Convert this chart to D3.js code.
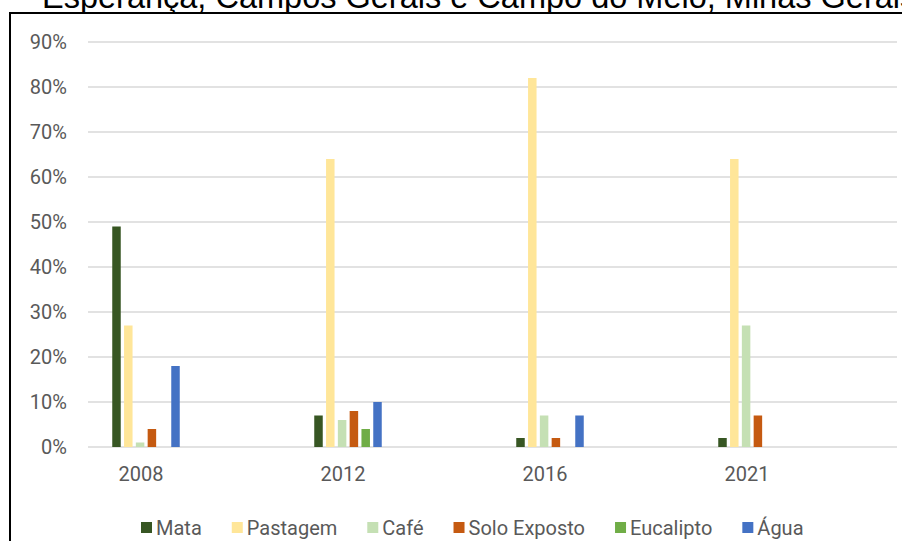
<!DOCTYPE html>
<html>
<head>
<meta charset="utf-8">
<script src="https://cdn.jsdelivr.net/npm/d3@7/dist/d3.min.js"></script>
<style>
  body { margin: 0; background: #fff; }
  svg { display: block; }
  .tick text { font-family: Roboto, "Liberation Sans", sans-serif; fill: #595959; }
</style>
</head>
<body>
<div id="chart"></div>
<script>
// data (percent)
var years = ["2008", "2012", "2016", "2021"];
var classes = ["Mata", "Pastagem", "Café", "Solo Exposto", "Eucalipto", "Água"];
var mata       = [49, 7, 2, 2];
var pastagem   = [27, 64, 82, 64];
var cafe       = [1, 6, 7, 27];
var soloExposto = [4, 8, 2, 7];
var eucalipto  = [0, 4, 0, 0];
var agua       = [18, 10, 7, 0];
var yTicks = [0, 10, 20, 30, 40, 50, 60, 70, 80, 90];
var colors = ["#375623", "#ffe699", "#c5e0b4", "#c55a11", "#70ad47", "#4472c4"];

var series = [mata, pastagem, cafe, soloExposto, eucalipto, agua];

var fullWidth = 902, fullHeight = 541;

var svg = d3.select("#chart").append("svg")
    .attr("width", fullWidth)
    .attr("height", fullHeight);

// title, cut off at the top like the screenshot
svg.append("text")
    .attr("x", 42)
    .attr("y", 8)
    .style("font-family", "'Liberation Sans', Arial, sans-serif")
    .style("font-size", "32.5px")
    .attr("fill", "#000")
    .text("Esperança, Campos Gerais e Campo do Meio, Minas Gerais");

// chart frame
svg.append("rect")
    .attr("x", 10)
    .attr("y", 13)
    .attr("width", 920)
    .attr("height", 560)
    .attr("fill", "#fff")
    .attr("stroke", "#000")
    .attr("stroke-width", 2);

// scales
var y = d3.scaleLinear().domain([0, 90]).range([447, 42]);
var x = d3.scaleBand().domain(years).range([40, 848]);
var xInner = d3.scaleBand().domain(classes).range([0, 67.5]).paddingInner(0.28);
var barShift = 5;

// gridlines
svg.append("g").selectAll("line")
    .data(yTicks)
    .enter().append("line")
    .attr("x1", 88)
    .attr("x2", 897)
    .attr("y1", function(d) { return y(d); })
    .attr("y2", function(d) { return y(d); })
    .attr("stroke", "#d9d9d9")
    .attr("stroke-width", 1.5);

// y axis labels
var yAxis = d3.axisLeft(y)
    .tickValues(yTicks)
    .tickSize(0)
    .tickPadding(0)
    .tickFormat(function(d) { return d + "%"; });

var gy = svg.append("g")
    .attr("transform", "translate(67,0)")
    .call(yAxis);
gy.select(".domain").remove();
gy.selectAll("text").style("font-size", "20px");

// x axis labels
var xAxis = d3.axisBottom(x).tickSize(0).tickPadding(0);
var gx = svg.append("g")
    .attr("transform", "translate(0,467)")
    .call(xAxis);
gx.select(".domain").remove();
gx.selectAll("text").style("font-size", "20px").attr("dy", "0.71em");

// bars
var groups = svg.append("g").selectAll("g")
    .data(years)
    .enter().append("g")
    .attr("transform", function(d) {
      return "translate(" + (x(d) + x.bandwidth() / 2 - 67.5 / 2 + barShift) + ",0)";
    });

groups.selectAll("rect")
    .data(function(d, i) {
      return classes.map(function(c, k) { return {cls: c, k: k, v: series[k][i]}; });
    })
    .enter().append("rect")
    .filter(function(d) { return d.v > 0; })
    .attr("x", function(d) { return xInner(d.cls); })
    .attr("width", xInner.bandwidth())
    .attr("y", function(d) { return y(d.v); })
    .attr("height", function(d) { return y(0) - y(d.v); })
    .attr("fill", function(d) { return colors[d.k]; });

// legend
var legend = svg.append("g").attr("transform", "translate(141,0)");
var lx = 0;
classes.forEach(function(c, k) {
  legend.append("rect")
      .attr("x", lx)
      .attr("y", 522)
      .attr("width", 11)
      .attr("height", 11)
      .attr("fill", colors[k]);
  var t = legend.append("text")
      .attr("x", lx + 15)
      .attr("y", 535)
      .style("font-family", "Roboto, 'Liberation Sans', sans-serif")
      .style("font-size", "20px")
      .attr("fill", "#595959")
      .text(c);
  lx += 15 + t.node().getComputedTextLength() + 30;
});
</script>
</body>
</html>
